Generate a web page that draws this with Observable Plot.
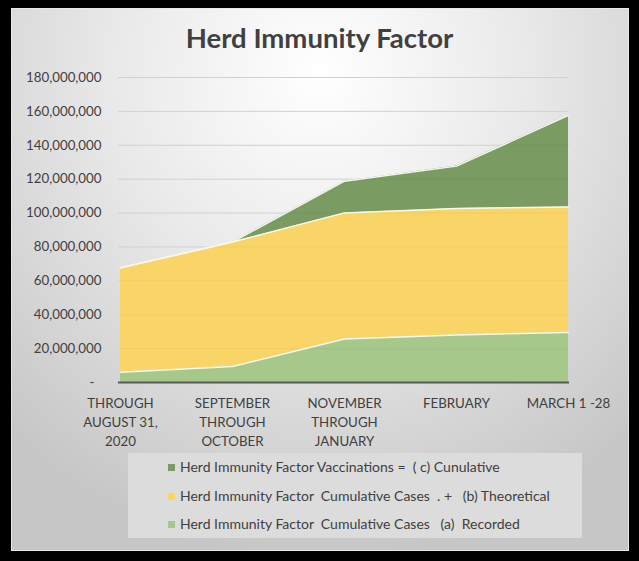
<!DOCTYPE html>
<html>
<head>
<meta charset="utf-8">
<script src="https://cdn.jsdelivr.net/npm/d3@7"></script>
<script src="https://cdn.jsdelivr.net/npm/@observablehq/plot@0.6"></script>
<style>
  html, body { margin: 0; padding: 0; background: #000; }
  body { width: 639px; height: 561px; position: relative; overflow: hidden; font-family: Lato, "Open Sans", sans-serif; }
  #panel { position: absolute; left: 11px; top: 8px; width: 616px; height: 541px;
    border: 1px solid #e8e8e8;
    background: radial-gradient(ellipse 75% 90% at 50% 12%, #ffffff 0%, #e9e9e9 45%, #c6c6c6 100%); }
  #title { position: absolute; left: 0; width: 639px; top: 21px; text-align: center;
    font-weight: 700; font-size: 27.5px; color: #404040; line-height: 34px; }
  #chart { position: absolute; left: 0; top: 0; }
  #legend { position: absolute; left: 128px; top: 453px; width: 454px; height: 85px; background: #dcdcdc; }
  .row { position: absolute; left: 40px; font-size: 14px; color: #404040; white-space: pre; line-height: 16px; }
  .sw { display: inline-block; width: 7px; height: 7px; margin-right: 5px; vertical-align: 1px; }
</style>
</head>
<body>
<div id="panel"></div>
<div id="title">Herd Immunity Factor</div>
<div id="chart"></div>
<div id="legend"></div>
<script>
const categories = ["THROUGH\nAUGUST 31,\n2020", "SEPTEMBER\nTHROUGH\nOCTOBER", "NOVEMBER\nTHROUGH\nJANUARY", "FEBRUARY", "MARCH 1 -28"];
const seriesNames = [
  "Herd Immunity Factor  Cumulative Cases   (a)  Recorded",
  "Herd Immunity Factor  Cumulative Cases  . +   (b) Theoretical",
  "Herd Immunity Factor Vaccinations =  ( c) Cunulative"
];
const recorded = [6.1e6, 9.4e6, 25.7e6, 28.1e6, 29.5e6];
const theoretical = [61.6e6, 73.5e6, 74.4e6, 74.6e6, 74.1e6];
const vaccinations = [0, 0, 18.7e6, 25.0e6, 54.1e6];
const colors = ["#a6c98b", "#f9d466", "#7a9b62"];
const yTicks = [0, 20e6, 40e6, 60e6, 80e6, 100e6, 120e6, 140e6, 160e6, 180e6];

const seriesValues = [recorded, theoretical, vaccinations];
const rows = [];
seriesNames.forEach((s, i) => categories.forEach((c, j) => rows.push({cat: c, series: s, value: seriesValues[i][j]})));

const stackOpts = {x: "cat", y: "value", z: "series", order: seriesNames};

const chart = Plot.plot({
  width: 639,
  height: 460,
  marginLeft: 118,
  marginRight: 70,
  marginTop: 77,
  marginBottom: 78,
  style: {background: "transparent", fontFamily: "Lato, 'Open Sans', sans-serif", fontSize: "13.3px", color: "#404040"},
  x: {type: "point", domain: categories, padding: 0, label: null},
  y: {domain: [0, 180e6], label: null},
  color: {domain: seriesNames, range: colors},
  marks: [
    Plot.gridY(yTicks, {stroke: "#d9d9d9", strokeOpacity: 1, strokeWidth: 1}),
    Plot.areaY(rows, Plot.stackY({...stackOpts, fill: "series", fillOpacity: 1})),
    Plot.gridY(yTicks, {stroke: "#000", strokeOpacity: 0.035, strokeWidth: 1}),
    Plot.lineY(rows, Plot.stackY2({...stackOpts, stroke: "#f4f8ee", strokeWidth: 1.5})),
    Plot.ruleY([0], {stroke: "#595959", strokeWidth: 2}),
    Plot.axisY(yTicks.filter(d => d > 0), {tickSize: 0, tickPadding: 17, tickFormat: d3.format(","), label: null}),
    Plot.axisY([0], {tickSize: 0, tickPadding: 24, tickFormat: () => "-", label: null}),
    Plot.axisX({tickSize: 0, tickPadding: 12, lineHeight: 1.43, label: null})
  ]
});
document.getElementById("chart").appendChild(chart);

const legend = document.getElementById("legend");
const order = [2, 1, 0];
const tops = [6, 35, 63];
order.forEach((idx, k) => {
  const r = document.createElement("div");
  r.className = "row";
  r.style.top = tops[k] + "px";
  const sw = document.createElement("span");
  sw.className = "sw";
  sw.style.background = colors[idx];
  r.appendChild(sw);
  r.appendChild(document.createTextNode(seriesNames[idx]));
  legend.appendChild(r);
});
</script>
</body>
</html>
